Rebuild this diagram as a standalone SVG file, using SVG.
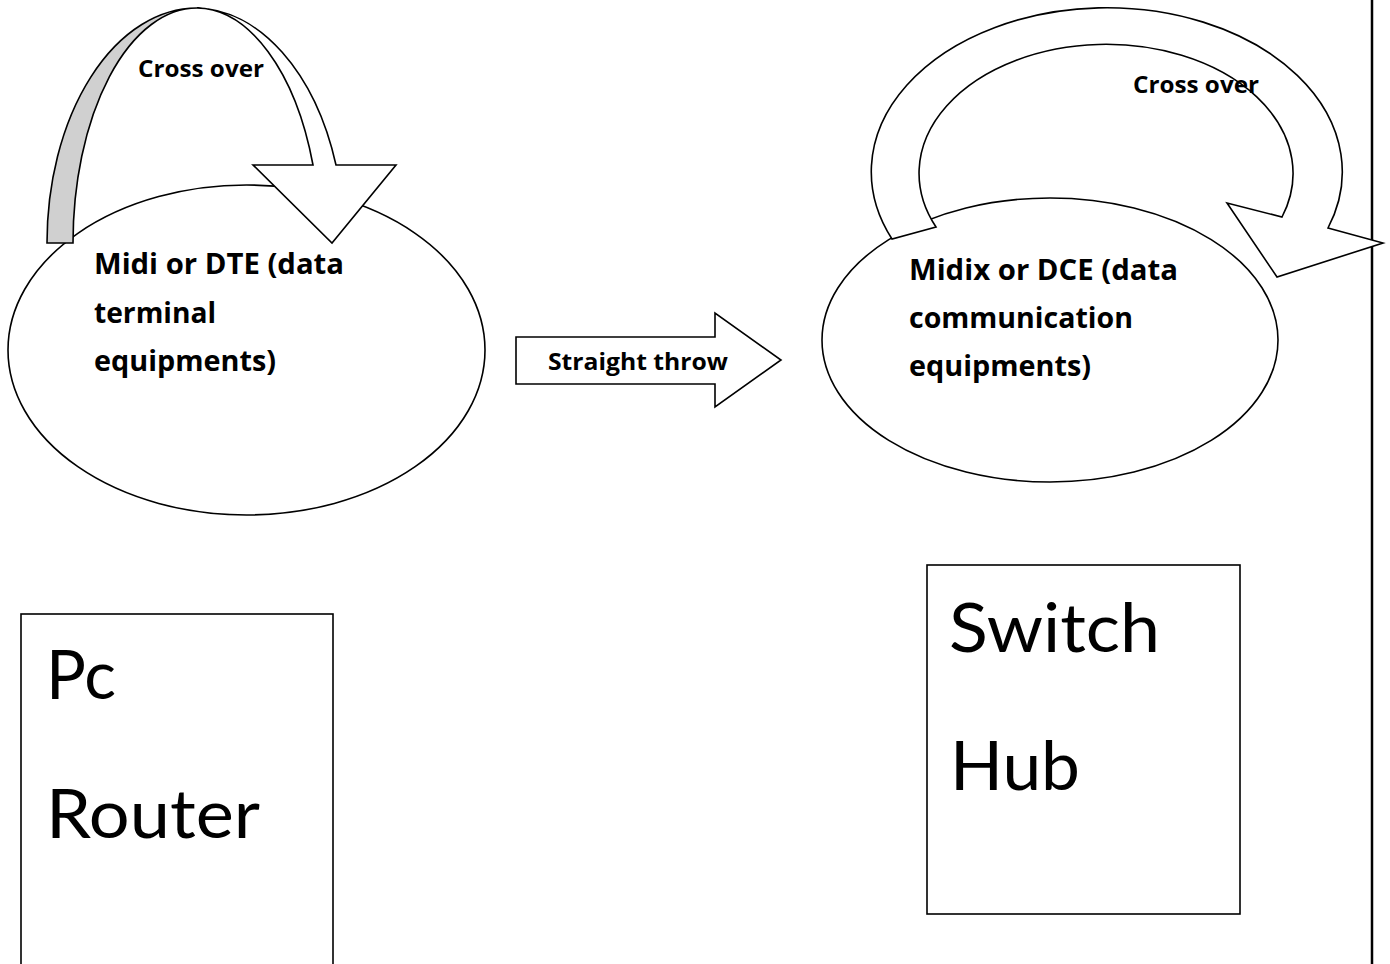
<svg xmlns="http://www.w3.org/2000/svg" width="1390" height="964" viewBox="0 0 1390 964">
  <style>
    .shape { fill: #ffffff; stroke: #000000; stroke-width: 1.6; stroke-linejoin: miter; }
    .back { fill: #d0d0d0; stroke: #000000; stroke-width: 1.6; }
    .box { fill: #ffffff; stroke: #000000; stroke-width: 1.6; }
    text { font-variant-ligatures: none; }
    .lbl { font-family: "Open Sans", Lato, "Liberation Sans", sans-serif; font-weight: bold; fill: #000000; }
    .small { font-size: 24px; }
    .mid { font-size: 28.5px; }
    .big { font-family: Lato, "Open Sans", "Liberation Sans", sans-serif; font-size: 68px; fill: #000000; }
  </style>

  <rect x="0" y="0" width="1390" height="964" fill="#ffffff"/>

  <!-- right margin rule -->
  <line x1="1372" y1="0" x2="1372" y2="964" stroke="#000000" stroke-width="2.5"/>

  <!-- DTE node -->
  <g id="node-dte">
    <ellipse class="shape" cx="246.5" cy="350" rx="238.5" ry="165"/>
  </g>

  <!-- DCE node -->
  <g id="node-dce">
    <ellipse class="shape" cx="1050" cy="340" rx="228" ry="142"/>
  </g>

  <!-- connectors -->
  <g id="connectors">
    <!-- crossover loop on DTE -->
    <g id="loop-dte">
      <path class="back" d="M47,243 A150,235 0 0 1 197,8 A124,235 0 0 0 73,243 Z"/>
      <path class="shape" d="M197,8 A150,235 0 0 1 336,165 L396,165 L332,243 L253,165 L313,165 A124,235 0 0 0 197,8 Z"/>
    </g>
    <!-- crossover loop on DCE -->
    <g id="loop-dce">
      <path class="shape" d="M892,239 A235.5,164 0 1 1 1328,228 L1383,243 L1277,277 L1227,203 L1282,217 A187,129 0 1 0 936,227 Z"/>
    </g>
    <!-- straight-through block arrow -->
    <g id="straight">
      <polygon class="shape" points="516,337 715,337 715,313 781,360 715,407 715,384 516,384"/>
    </g>
    <text class="lbl small" x="138" y="77" textLength="126" lengthAdjust="spacingAndGlyphs">Cross over</text>
    <text class="lbl small" x="1133" y="93" textLength="126" lengthAdjust="spacingAndGlyphs">Cross over</text>
    <text class="lbl small" x="548" y="370" textLength="180" lengthAdjust="spacingAndGlyphs">Straight throw</text>
  </g>

  <!-- ellipse labels -->
  <g id="label-dte" class="lbl mid">
    <text x="94" y="274" textLength="250" lengthAdjust="spacingAndGlyphs">Midi or DTE (data</text>
    <text x="94" y="323" textLength="122" lengthAdjust="spacingAndGlyphs">terminal</text>
    <text x="94" y="371" textLength="182" lengthAdjust="spacingAndGlyphs">equipments)</text>
  </g>
  <g id="label-dce" class="lbl mid">
    <text x="909" y="280" textLength="269" lengthAdjust="spacingAndGlyphs">Midix or DCE (data</text>
    <text x="909" y="328" textLength="224" lengthAdjust="spacingAndGlyphs">communication</text>
    <text x="909" y="376" textLength="182" lengthAdjust="spacingAndGlyphs">equipments)</text>
  </g>

  <!-- device boxes -->
  <g id="node-dte-devices">
    <rect class="box" x="21" y="614" width="312" height="360"/>
    <text class="big" x="46" y="699" textLength="70" lengthAdjust="spacingAndGlyphs">Pc</text>
    <text class="big" x="46" y="838" textLength="214" lengthAdjust="spacingAndGlyphs">Router</text>
  </g>
  <g id="node-dce-devices">
    <rect class="box" x="927" y="565" width="313" height="349"/>
    <text class="big" x="949" y="652" textLength="211" lengthAdjust="spacingAndGlyphs">Switch</text>
    <text class="big" x="950" y="790" textLength="130" lengthAdjust="spacingAndGlyphs">Hub</text>
  </g>
</svg>
